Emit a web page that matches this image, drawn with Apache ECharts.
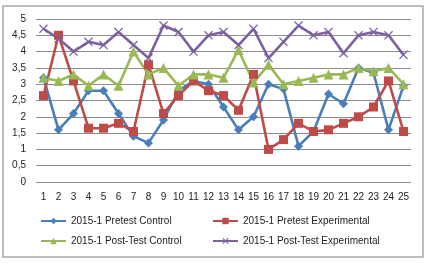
<!DOCTYPE html>
<html lang="en">
  <head>
    <meta charset="utf-8" />
    <script src="https://cdn.jsdelivr.net/npm/echarts@6/dist/echarts.min.js"></script>
    <style>
      html, body { margin: 0; padding: 0; background: #fff; }
      #chart { width: 435px; height: 266px; }
    </style>
    <title>2015-1 Pretest / Post-Test</title>
  </head>
  <body>
    <div id="chart"></div>
    <script>
      var categories = ['1','2','3','4','5','6','7','8','9','10','11','12','13','14','15','16','17','18','19','20','21','22','23','24','25']
      var pretestControl = [3.2, 1.6, 2.1, 2.8, 2.8, 2.1, 1.4, 1.2, 1.9, 2.8, 3.1, 3.0, 2.3, 1.6, 2.0, 3.0, 2.85, 1.1, 1.55, 2.7, 2.4, 3.5, 3.35, 1.6, 2.95]
      var pretestExperimental = [2.65, 4.5, 3.1, 1.65, 1.65, 1.8, 1.55, 3.6, 2.1, 2.65, 3.1, 2.8, 2.65, 2.2, 3.3, 1.0, 1.3, 1.8, 1.55, 1.6, 1.8, 2.0, 2.3, 3.1, 1.55]
      var postControl = [3.2, 3.1, 3.3, 2.95, 3.3, 2.95, 4.0, 3.3, 3.5, 2.95, 3.3, 3.3, 3.2, 4.05, 3.05, 3.6, 3.0, 3.1, 3.2, 3.3, 3.3, 3.5, 3.4, 3.5, 3.0]
      var postExperimental = [4.7, 4.4, 4.0, 4.3, 4.2, 4.6, 4.2, 3.8, 4.8, 4.6, 4.0, 4.5, 4.6, 4.2, 4.7, 3.8, 4.3, 4.8, 4.5, 4.6, 3.95, 4.5, 4.6, 4.5, 3.9]
      var seriesNames = ['2015-1 Pretest Control', '2015-1 Pretest Experimental', '2015-1 Post-Test Control', '2015-1 Post-Test Experimental']

      var font = 'Liberation Sans'
      // X marker, drawn as a filled shape
      var cross = 'path://M0,1L1,0L5,4L9,0L10,1L6,5L10,9L9,10L5,6L1,10L0,9L4,5Z'

      function line (name, data, color, symbol, size) {
        return {
          name: name, type: 'line', data: data,
          symbol: symbol, symbolSize: size,
          lineStyle: { color: color, width: 2.6 },
          itemStyle: { color: color },
          animation: false
        }
      }

      function legend (name, left, top) {
        return {
          data: [name], left: left, top: top,
          itemWidth: 25, itemHeight: 8, padding: 0,
          textStyle: { fontFamily: font, fontSize: 10, color: '#222' }
        }
      }

      var chart = echarts.init(document.getElementById('chart'))
      chart.setOption({
        backgroundColor: '#fff',
        graphic: [{
          type: 'rect', shape: { x: 3, y: 6, width: 420, height: 251 },
          style: { fill: 'none', stroke: '#a6a6a6', lineWidth: 1.5 }, silent: true
        }],
        grid: { left: 36, right: 24, top: 19, bottom: 84 },
        legend: [
          legend(seriesNames[0], 40, 216),
          legend(seriesNames[1], 212, 216),
          legend(seriesNames[2], 40, 236),
          legend(seriesNames[3], 212, 236)
        ],
        xAxis: {
          type: 'category', data: categories, boundaryGap: true,
          axisLine: { show: false }, axisTick: { show: false },
          axisLabel: { fontFamily: font, fontSize: 10, color: '#222', margin: 10, interval: 0 }
        },
        yAxis: {
          type: 'value', min: 0, max: 5, interval: 0.5,
          axisLine: { show: false }, axisTick: { show: false },
          splitLine: { lineStyle: { color: '#8c8c8c', width: 1 } },
          axisLabel: {
            fontFamily: font, fontSize: 10, color: '#222', margin: 10,
            formatter: function (v) { return String(v).replace('.', ',') }
          }
        },
        series: [
          line(seriesNames[0], pretestControl, '#4a7ebb', 'diamond', 9),
          line(seriesNames[1], pretestExperimental, '#be4b48', 'rect', 9),
          line(seriesNames[2], postControl, '#98b954', 'triangle', 10),
          line(seriesNames[3], postExperimental, '#7d60a0', cross, 9)
        ]
      })
    </script>
  </body>
</html>
